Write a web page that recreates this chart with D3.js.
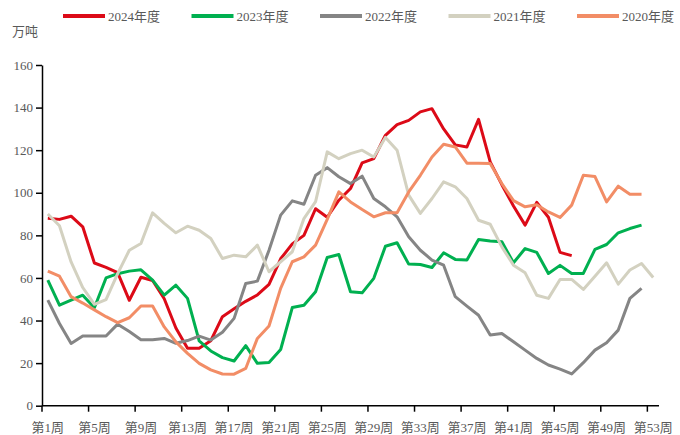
<!DOCTYPE html>
<html><head><meta charset="utf-8">
<script src="https://cdn.jsdelivr.net/npm/d3@7"></script>
<style>
html,body{margin:0;padding:0;background:#fff;}
svg text{font-family:"Liberation Serif","Noto Sans CJK SC",serif;}
</style></head>
<body><svg id="c" width="680" height="435"></svg>
<script>
const weeks = d3.range(1, 54);
const tickWeeks = [1,5,9,13,17,21,25,29,33,37,41,45,49,53];
const yTicks = [0,20,40,60,80,100,120,140,160];
const seriesNames = ["2024年度","2023年度","2022年度","2021年度","2020年度"];
const seriesColors = ["#dc0a17","#00b050","#858585","#d3d1c0","#f28d66"];

const s2024 = [88,87.5,89,84,67,65,62.5,49.5,60.3,58.8, 50.2,36.5,27,27,30.5,41.8,45.5,49,52,57, 69,76,80,92.5,88.5,96.5,102,114,116,127, 132,134,138,139.5,130,122.5,121.5,134.5,114.5,103.8, 93.8,84.8,95.5,88.5,72,70.5];
const s2023 = [59,47.2,49.6,51.9,46,60,62,63.2,63.8,59, 51.9,56.6,50.4,30.4,25.7,22.6,21,28.2,19.9,20.3, 26.4,46.1,47.2,53.5,69.6,71,53.5,53,59.8,74.9, 76.5,66.5,66.3,64.9,71.8,68.7,68.4,78,77.4,77, 67.1,73.8,72,62.1,65.9,62.1,62.1,73.4,75.7,81.2, 83.2,84.8];
const s2022 = [49.6,38.6,29.2,32.7,32.7,32.7,38.3,34.8,31,31, 31.6,29.3,30.6,32.7,30.8,34.5,41,57.4,58.5,73, 89.5,96.2,94.6,108.2,111.8,107.5,104.3,107.8,97.3,93.4, 88.7,79.3,73,68.4,66,51.2,46.8,42.5,33.2,33.9, 30,26.1,22.2,19.1,17.2,14.9,20.2,26.1,29.6,35.5, 50.4,55.1];
const s2021 = [90,84.5,67.5,55.5,47.6,49.8,62,73,76.2,90.6, 85.6,81.2,84.3,82.4,78.5,69.1,70.7,69.9,75.4,62.9, 67.6,72.3,87.9,95.8,119.2,116,118.4,120,116.8,126, 120,98.9,90.3,97.3,105.1,102.8,97.3,87.1,85.2,74.6, 66,62.4,51.9,50.4,59.3,59.3,54.6,60.8,67.1,57.1, 63.7,66.8,60.2];
const s2020 = [63.2,60.8,51.2,48.2,45,41.8,39,41.3,46.8,46.8, 37,30,24.6,19.9,16.8,14.9,14.8,17.5,31.6,37.4, 55.1,67.6,69.9,75.4,87.5,100.4,95.7,92.1,88.7,90.6, 90.6,100.4,108.2,116.8,122.8,121.5,113.9,113.9,113.7,104.3, 96.3,93.4,94.4,91,88.4,94.2,108.2,107.6,95.7,103.1, 99.3,99.3];
const seriesData = [s2024, s2023, s2022, s2021, s2020];

const svg = d3.select("#c");
const x = d3.scaleBand().domain(weeks).range([42, 659]).padding(0);
const bw = x.bandwidth();
const y = d3.scaleLinear().domain([0, 160]).range([405.7, 65]);
const txt = "#595959";

// y axis
const ya = svg.append("g").attr("transform", "translate(42,0)")
  .call(d3.axisLeft(y).tickValues(yTicks).tickSize(6).tickSizeOuter(0).tickPadding(3));
ya.select(".domain").attr("stroke", "#000").attr("stroke-width", 1.5);
ya.selectAll(".tick line").attr("stroke", "#000").attr("stroke-width", 1.5);
ya.selectAll(".tick text").attr("fill", txt).attr("font-size", 13)
  .style("font-family", "'Liberation Serif',serif");

// x axis (ticks at category boundaries, labels centered)
const xa = svg.append("g").attr("transform", "translate(0,405.7)");
xa.append("line").attr("x1", 42).attr("x2", 659).attr("stroke", "#000").attr("stroke-width", 1.5);
xa.selectAll("line.t").data(tickWeeks).join("line").attr("class", "t")
  .attr("x1", d => x(d)).attr("x2", d => x(d)).attr("y1", 0).attr("y2", 6)
  .attr("stroke", "#000").attr("stroke-width", 1.5);
xa.selectAll("text").data(tickWeeks).join("text")
  .attr("x", d => x(d) + bw / 2).attr("y", 26).attr("text-anchor", "middle")
  .attr("fill", txt).attr("font-size", 13).text(d => "第" + d + "周");

// lines (first series drawn first)
const line = d3.line().x((d, i) => x(i + 1) + bw / 2).y(d => y(d));
seriesData.forEach((s, k) => {
  svg.append("path").datum(s).attr("d", line)
    .attr("fill", "none").attr("stroke", seriesColors[k]).attr("stroke-width", 3)
    .attr("stroke-linejoin", "round");
});

// unit
svg.append("text").attr("x", 12).attr("y", 36).attr("fill", txt).attr("font-size", 13).text("万吨");

// legend
const lg = svg.append("g");
seriesNames.forEach((n, i) => {
  const lx = 63 + i * 128.5;
  lg.append("line").attr("x1", lx).attr("x2", lx + 42).attr("y1", 16).attr("y2", 16)
    .attr("stroke", seriesColors[i]).attr("stroke-width", 4);
  lg.append("text").attr("x", lx + 45).attr("y", 21).attr("fill", txt).attr("font-size", 13).text(n);
});
</script></body></html>
